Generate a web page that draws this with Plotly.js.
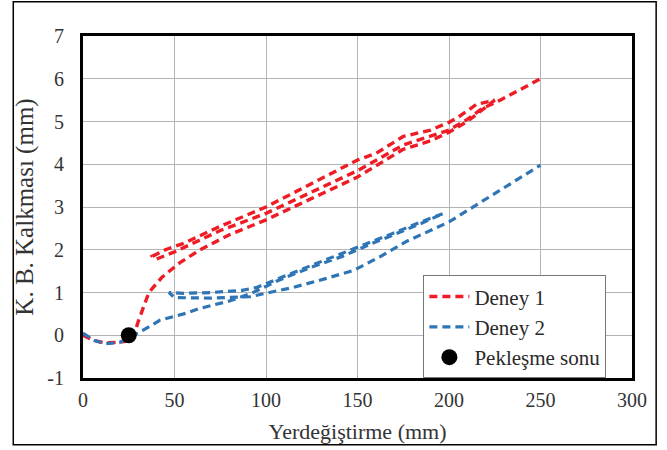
<!DOCTYPE html>
<html><head><meta charset="utf-8">
<script src="https://cdn.plot.ly/plotly-3.0.1.min.js"></script>
<style>html,body{margin:0;padding:0;background:#fff;}#chart{width:667px;height:450px;}</style>
</head><body><div id="chart"></div>
<script>
// Deney 1 (red): first loading, unloading, reloading
const deney1X = [0, 6, 12, 20, 27, 30, 33, 36, 43, 53, 64, 80, 100, 125, 150, 175, 190, 200, 210, 225,
                 215, 205, 200, 190, 175, 160, 150, 125, 100, 75, 55, 45, 38,
                 40, 50, 75, 100, 125, 150, 175, 200, 210, 218, 228, 238, 250];
const deney1Y = [0.0, -0.12, -0.18, -0.16, -0.12, 0.3, 0.65, 1.0, 1.35, 1.7, 2.0, 2.35, 2.7, 3.2, 3.7, 4.35, 4.55, 4.75, 5.0, 5.5,
                 5.4, 5.1, 4.98, 4.8, 4.65, 4.25, 4.1, 3.55, 3.0, 2.55, 2.15, 2.0, 1.85,
                 1.78, 1.95, 2.45, 2.85, 3.35, 3.85, 4.45, 4.8, 5.05, 5.3, 5.5, 5.73, 6.0];
// Deney 2 (blue)
const deney2X = [0, 6, 12, 20, 25, 32, 42, 55, 64, 80, 92, 106, 124, 142, 157, 168, 184, 197,
                 184, 168, 157, 146, 140, 124, 106, 95, 87, 70, 55, 47,
                 50, 70, 91, 115, 133, 148, 162, 177, 200, 213, 230, 250];
const deney2Y = [0.05, -0.12, -0.2, -0.17, -0.05, 0.1, 0.35, 0.5, 0.63, 0.8, 0.98, 1.27, 1.58, 1.85, 2.13, 2.32, 2.6, 2.85,
                 2.64, 2.36, 2.17, 1.99, 1.89, 1.62, 1.31, 1.12, 1.05, 1.0, 0.98, 1.0,
                 0.88, 0.87, 0.9, 1.12, 1.33, 1.52, 1.83, 2.2, 2.65, 3.0, 3.45, 3.98];
// Pekleşme sonu
const peklesmeX = [25];
const peklesmeY = [0];

const xTicks = [0, 50, 100, 150, 200, 250, 300];
const yTicks = [-1, 0, 1, 2, 3, 4, 5, 6, 7];

const serif = 'Liberation Serif';

const traces = [
  {x: deney1X, y: deney1Y, name: 'Deney 1', type: 'scatter', mode: 'lines',
   line: {color: '#ee1c25', width: 3.4, dash: '8px,5px'}},
  {x: deney2X, y: deney2Y, name: 'Deney 2', type: 'scatter', mode: 'lines',
   line: {color: '#2e75b6', width: 3.2, dash: '8px,5px'}},
  {x: peklesmeX, y: peklesmeY, name: 'Pekleşme sonu', type: 'scatter', mode: 'markers',
   marker: {color: '#000', size: 16}}
];

const layout = {
  width: 667, height: 450,
  paper_bgcolor: '#fff', plot_bgcolor: '#fff',
  margin: {l: 83, r: 35, t: 36, b: 72},
  font: {family: serif, size: 20, color: '#222'},
  showlegend: true,
  legend: {x: 0.62, y: 0.3, xanchor: 'left', yanchor: 'top',
           bgcolor: '#fff', bordercolor: '#777', borderwidth: 1,
           font: {family: serif, size: 21, color: '#2a2a2a'},
           tracegroupgap: 0, itemwidth: 40},
  xaxis: {range: [0, 300], tickvals: xTicks, ticktext: xTicks.map(String),
          showgrid: true, gridcolor: '#b4b4b4', gridwidth: 1,
          zeroline: false, showline: true, linecolor: '#000', linewidth: 3, mirror: true,
          ticks: '', ticklen: 0, ticklabelstandoff: 2,
          tickfont: {family: serif, size: 20, color: '#333'},
          title: {text: 'Yerdeğiştirme (mm)', font: {family: serif, size: 22, color: '#333'}, standoff: 14}},
  yaxis: {range: [-1, 7], tickvals: yTicks, ticktext: yTicks.map(String),
          showgrid: true, gridcolor: '#b4b4b4', gridwidth: 1,
          zeroline: false, showline: true, linecolor: '#000', linewidth: 3, mirror: true,
          ticks: '', ticklen: 0, ticklabelstandoff: 12,
          tickfont: {family: serif, size: 20, color: '#333'},
          title: {text: 'K. B. Kalkması (mm)', font: {family: serif, size: 25, color: '#333'}, standoff: 7}},
  shapes: [{type: 'rect', xref: 'paper', yref: 'paper',
            x0: -0.127, x1: 1.044, y0: -0.195, y1: 1.1,
            line: {color: '#000', width: 1.5}, fillcolor: 'rgba(0,0,0,0)', layer: 'below'}]
};

Plotly.newPlot('chart', traces, layout, {displayModeBar: false, staticPlot: true});
</script></body></html>
